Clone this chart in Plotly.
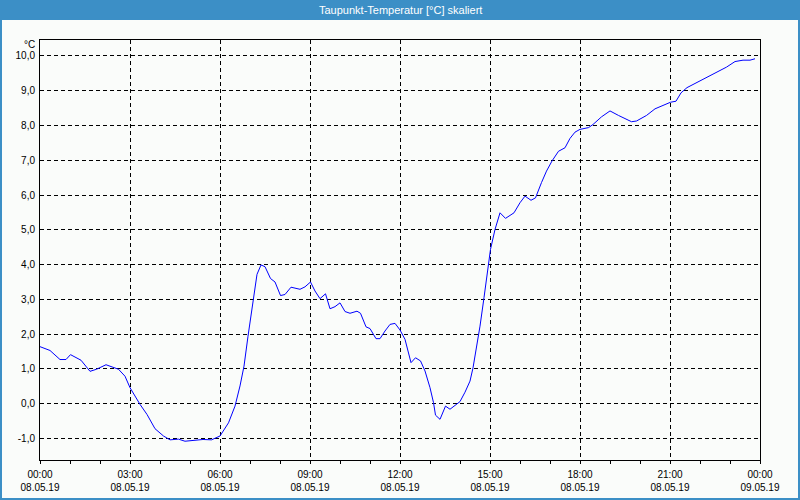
import plotly.graph_objects as go

date = "2019-05-08"
times = ["00:00","00:20","00:40","00:52","01:01","01:22","01:40","01:53","02:12","02:37",
         "02:50","03:00","03:20","03:34","03:50","04:07","04:20","04:37","04:50","05:07",
         "05:26","05:43","06:00","06:17","06:30","06:40","06:48","06:56","07:07","07:14",
         "07:22","07:30","07:41","07:50","08:01","08:10","08:22","08:30","08:40","08:50",
         "09:01","09:10","09:20","09:31","09:40","09:50","10:00","10:10","10:20","10:34",
         "10:41","10:52","11:00","11:12","11:20","11:30","11:40","11:50","12:00","12:10",
         "12:17","12:22","12:31","12:41","12:50","13:00","13:07","13:11","13:20","13:31",
         "13:40","13:50","14:00","14:10","14:20","14:26","14:34","14:40","14:48","14:55",
         "15:01","15:10","15:20","15:31","15:48","16:00","16:10","16:22","16:31","16:43",
         "16:53","17:04","17:17","17:30","17:40","17:50","18:00","18:17","18:26","18:43",
         "19:00","19:17","19:30","19:43","19:53","20:13","20:30","20:47","21:01","21:12",
         "21:22","21:34","21:53","22:13","22:34","22:53","23:10","23:26","23:40","23:50"]
values = [1.64,1.53,1.27,1.27,1.41,1.25,0.93,0.99,1.12,0.99,
          0.79,0.46,-0.02,-0.31,-0.72,-0.93,-1.04,-1.02,-1.08,-1.05,
          -1.03,-1.04,-0.93,-0.55,-0.07,0.51,1.08,1.94,3.05,3.72,
          3.99,3.94,3.60,3.50,3.11,3.14,3.35,3.32,3.29,3.36,
          3.50,3.24,3.02,3.16,2.73,2.79,2.90,2.65,2.60,2.66,
          2.60,2.21,2.16,1.87,1.87,2.09,2.28,2.31,2.12,1.85,
          1.42,1.18,1.32,1.23,0.94,0.46,0.03,-0.33,-0.45,-0.07,
          -0.16,-0.04,0.06,0.33,0.65,1.03,1.66,2.23,3.05,3.77,
          4.44,5.01,5.49,5.33,5.49,5.78,5.97,5.85,5.92,6.36,
          6.69,6.98,7.26,7.36,7.63,7.81,7.89,7.94,8.03,8.25,
          8.42,8.29,8.20,8.11,8.13,8.29,8.48,8.58,8.67,8.70,
          8.94,9.09,9.23,9.40,9.55,9.68,9.84,9.88,9.88,9.92]

x_tickvals = ["2019-05-08 00:00","2019-05-08 03:00","2019-05-08 06:00","2019-05-08 09:00",
              "2019-05-08 12:00","2019-05-08 15:00","2019-05-08 18:00","2019-05-08 21:00",
              "2019-05-09 00:00"]
x_time_labels = ["00:00","03:00","06:00","09:00","12:00","15:00","18:00","21:00","00:00"]
x_date_labels = ["08.05.19","08.05.19","08.05.19","08.05.19","08.05.19","08.05.19",
                 "08.05.19","08.05.19","09.05.19"]
y_tickvals = [-1,0,1,2,3,4,5,6,7,8,9,10]
y_ticktext = ["-1,0","0,0","1,0","2,0","3,0","4,0","5,0","6,0","7,0","8,0","9,0","10,0"]

title_text = "Taupunkt-Temperatur [°C] skaliert"
unit_text = "°C"

W, H = 800, 500
ML, MR, MT, MB = 40, 40, 40, 40
PW, PH = W - ML - MR, H - MT - MB

def px_x(p):
    return (p - ML) / PW

def px_y(p):
    return 1 - (p - MT) / PH

FONT = "Liberation Sans"
BLUE = "#3c8fc6"
BG = "#fafcfa"
XRANGE = ["2019-05-08 00:00", "2019-05-09 00:00"]

fig = go.Figure()
fig.add_trace(go.Scatter(
    x=[f"{date} {t}" for t in times], y=values, mode="lines",
    line=dict(color="#0000ff", width=1), hoverinfo="skip", showlegend=False))
# invisible helper trace so the second (date-label) axis is drawn
fig.add_trace(go.Scatter(x=XRANGE, y=[None, None], xaxis="x2", mode="lines",
                         hoverinfo="skip", showlegend=False))

fig.update_layout(
    template="none",
    width=W, height=H,
    margin=dict(l=ML, r=MR, t=MT, b=MB, pad=0),
    paper_bgcolor=BG, plot_bgcolor=BG,
    font=dict(family=FONT, size=10, color="#000000"),
    showlegend=False,
    xaxis=dict(
        type="date", range=XRANGE, automargin=False,
        tickmode="array", tickvals=x_tickvals, ticktext=x_time_labels,
        ticks="outside", ticklen=3, tickcolor="#000000", tickwidth=1,
        ticklabelstandoff=2,
        showgrid=True, gridcolor="#000000", gridwidth=1, griddash="4px,3px",
        showline=True, linecolor="#000000", linewidth=1, mirror=True,
        zeroline=False, tickangle=0,
        minor=dict(ticks="outside", ticklen=3, tickcolor="#000000",
                   dtick=3600000, tick0="2019-05-08 00:00", showgrid=False),
    ),
    xaxis2=dict(
        type="date", range=XRANGE, overlaying="x", anchor="y", side="bottom",
        automargin=False,
        tickmode="array", tickvals=x_tickvals, ticktext=x_date_labels,
        ticks="", showgrid=False, showline=False, zeroline=False, tickangle=0,
        ticklabelstandoff=20,
    ),
    yaxis=dict(
        range=[-1.62, 10.46], automargin=False,
        tickmode="array", tickvals=y_tickvals, ticktext=y_ticktext,
        ticks="", showgrid=True, gridcolor="#000000", gridwidth=1, griddash="4px,3px",
        showline=True, linecolor="#000000", linewidth=1, mirror=True,
        zeroline=False, ticklabelstandoff=2,
    ),
    shapes=[
        dict(type="rect", xref="paper", yref="paper",
             x0=px_x(0), x1=px_x(W), y0=px_y(20), y1=px_y(0),
             fillcolor=BLUE, line=dict(width=0), layer="above"),
        dict(type="rect", xref="paper", yref="paper",
             x0=px_x(1), x1=px_x(W - 1), y0=px_y(H - 1), y1=px_y(1),
             fillcolor="rgba(0,0,0,0)", line=dict(color=BLUE, width=2), layer="above"),
    ],
    annotations=[
        dict(text=title_text, xref="paper", yref="paper", x=px_x(W / 2), y=px_y(10),
             xanchor="center", yanchor="middle", showarrow=False,
             font=dict(family=FONT, size=11, color="#ffffff")),
        dict(text=unit_text, xref="paper", yref="paper", x=px_x(37), y=px_y(45),
             xanchor="right", yanchor="middle", showarrow=False,
             font=dict(family=FONT, size=10, color="#000000")),
    ],
)

fig.write_html("out.html")
